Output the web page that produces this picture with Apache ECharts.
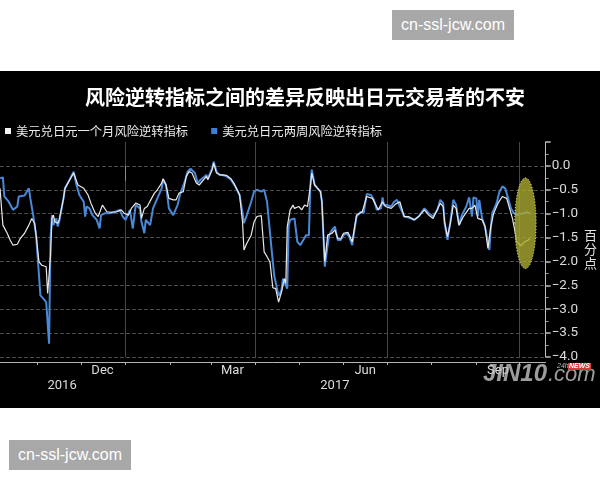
<!DOCTYPE html>
<html><head><meta charset="utf-8">
<script src="https://cdn.jsdelivr.net/npm/echarts@6/dist/echarts.min.js"></script>
<style>
html,body{margin:0;padding:0;background:#fff;width:600px;height:480px;overflow:hidden;}
#chart{position:absolute;left:0;top:71px;width:600px;height:337px;background:#000;}
.wm{position:absolute;width:122px;height:30px;background:#a8a8a8;color:#fff;font:16px 'Liberation Sans',Arial,sans-serif;line-height:30px;text-align:center;}
</style></head><body>
<div class="wm" style="left:392px;top:10px">cn-ssl-jcw.com</div>
<div id="chart"></div>
<div class="wm" style="left:9px;top:440px">cn-ssl-jcw.com</div>
<script>
const titleText = '风险逆转指标之间的差异反映出日元交易者的不安';
const seriesNames = ['美元兑日元一个月风险逆转指标', '美元兑日元两周风险逆转指标'];
const unitLabel = '百\n分\n点';
const axisStart = '2016-10-06';
const axisEnd = '2017-10-19';
const monthLabelDates = ['2016-12-16', '2017-03-16', '2017-06-16', '2017-09-16'];
const monthLabels = ['Dec', 'Mar', 'Jun', 'Sep'];
const yearLabelDates = ['2016-11-18', '2017-05-26'];
const yearLabels = ['2016', '2017'];
const yearBreakDates = ['2017-01-01'];
const quarterStartDates = ['2017-01-01', '2017-04-01', '2017-07-01', '2017-10-01'];
const yMin = -4, yMax = 0.5, yStep = 0.5;

// 1-month risk reversal (white)
const oneMonthDates = ['2016-10-06','2016-10-08','2016-10-11','2016-10-13','2016-10-15','2016-10-18','2016-10-20','2016-10-23','2016-10-26','2016-10-28','2016-10-30','2016-10-31','2016-11-02','2016-11-04','2016-11-07','2016-11-08','2016-11-10','2016-11-11','2016-11-12','2016-11-13','2016-11-15','2016-11-16','2016-11-19','2016-11-20','2016-11-26','2016-11-29','2016-12-03','2016-12-06','2016-12-08','2016-12-11','2016-12-13','2016-12-16','2016-12-19','2016-12-22','2016-12-26','2016-12-29','2016-12-31','2017-01-03','2017-01-05','2017-01-08','2017-01-11','2017-01-12','2017-01-14','2017-01-16','2017-01-19','2017-01-21','2017-01-23','2017-01-26','2017-01-27','2017-01-29','2017-01-31','2017-02-03','2017-02-05','2017-02-07','2017-02-10','2017-02-12','2017-02-14','2017-02-16','2017-02-19','2017-02-21','2017-02-26','2017-02-27','2017-03-02','2017-03-03','2017-03-05','2017-03-08','2017-03-12','2017-03-15','2017-03-17','2017-03-21','2017-03-23','2017-03-24','2017-03-26','2017-03-29','2017-03-31','2017-04-02','2017-04-05','2017-04-06','2017-04-07','2017-04-09','2017-04-11','2017-04-13','2017-04-15','2017-04-17','2017-04-19','2017-04-21','2017-04-22','2017-04-23','2017-04-25','2017-04-27','2017-04-28','2017-05-01','2017-05-03','2017-05-05','2017-05-07','2017-05-09','2017-05-10','2017-05-12','2017-05-14','2017-05-16','2017-05-17','2017-05-19','2017-05-21','2017-05-24','2017-05-26','2017-05-28','2017-05-30','2017-06-01','2017-06-04','2017-06-05','2017-06-07','2017-06-10','2017-06-14','2017-06-17','2017-06-21','2017-06-25','2017-06-28','2017-06-30','2017-07-04','2017-07-07','2017-07-10','2017-07-13','2017-07-16','2017-07-20','2017-07-23','2017-07-27','2017-07-30','2017-08-02','2017-08-07','2017-08-09','2017-08-10','2017-08-12','2017-08-14','2017-08-16','2017-08-18','2017-08-20','2017-08-23','2017-08-27','2017-08-29','2017-08-31','2017-09-02','2017-09-05','2017-09-07','2017-09-09','2017-09-11','2017-09-13','2017-09-16','2017-09-19','2017-09-22','2017-09-24','2017-09-26','2017-09-28','2017-09-29','2017-10-02','2017-10-04','2017-10-05','2017-10-07','2017-10-08'];
const oneMonthValues = [-0.47,-1.24,-1.41,-1.55,-1.66,-1.64,-1.52,-1.41,-1.24,-1.10,-1.20,-1.45,-2.01,-2.08,-2.11,-2.67,-1.87,-1.10,-1.03,-1.17,-1.20,-1.13,-0.68,-0.47,-0.15,-0.40,-0.47,-0.61,-0.78,-0.99,-1.06,-0.82,-0.96,-0.97,-0.96,-0.92,-0.99,-1.03,-0.89,-0.78,-0.82,-1.10,-0.89,-0.85,-0.68,-0.57,-0.50,-0.36,-0.27,-0.40,-0.68,-0.71,-0.71,-0.57,-0.54,-0.22,-0.12,-0.15,-0.36,-0.40,-0.22,-0.29,-0.08,0.06,-0.15,-0.19,-0.20,-0.27,-0.36,-0.61,-1.17,-1.76,-1.62,-1.45,-1.17,-1.06,-1.04,-1.06,-1.80,-1.90,-2.01,-2.55,-2.57,-2.85,-2.64,-2.36,-2.46,-1.27,-0.92,-0.82,-0.89,-0.85,-0.92,-0.82,-0.85,-0.43,-0.15,-0.40,-0.47,-0.54,-0.75,-2.01,-1.45,-1.41,-1.34,-1.52,-1.53,-1.41,-1.39,-1.45,-1.59,-1.03,-0.96,-0.64,-0.68,-0.92,-0.75,-0.85,-0.89,-0.80,-0.75,-1.06,-1.06,-1.13,-1.06,-0.92,-1.03,-1.10,-0.78,-0.85,-1.17,-1.48,-1.20,-0.82,-0.89,-1.24,-1.06,-0.89,-0.89,-0.82,-1.10,-1.13,-1.27,-1.73,-1.27,-0.99,-0.78,-0.64,-0.68,-0.89,-1.10,-1.41,-1.59,-1.67,-1.60,-1.57,-1.55,-1.52];

// 2-week risk reversal (blue)
const twoWeekDates = ['2016-10-06','2016-10-08','2016-10-09','2016-10-12','2016-10-15','2016-10-18','2016-10-19','2016-10-23','2016-10-26','2016-10-27','2016-10-29','2016-10-31','2016-11-01','2016-11-03','2016-11-05','2016-11-07','2016-11-09','2016-11-10','2016-11-11','2016-11-12','2016-11-14','2016-11-15','2016-11-16','2016-11-19','2016-11-20','2016-11-22','2016-11-26','2016-11-28','2016-11-30','2016-12-03','2016-12-04','2016-12-05','2016-12-07','2016-12-09','2016-12-12','2016-12-14','2016-12-15','2016-12-18','2016-12-21','2016-12-24','2016-12-28','2016-12-30','2017-01-01','2017-01-04','2017-01-06','2017-01-08','2017-01-11','2017-01-12','2017-01-14','2017-01-15','2017-01-18','2017-01-20','2017-01-22','2017-01-26','2017-01-27','2017-01-29','2017-01-31','2017-02-03','2017-02-06','2017-02-08','2017-02-11','2017-02-13','2017-02-15','2017-02-18','2017-02-20','2017-02-22','2017-02-26','2017-02-27','2017-03-02','2017-03-03','2017-03-05','2017-03-07','2017-03-09','2017-03-12','2017-03-15','2017-03-18','2017-03-21','2017-03-23','2017-03-24','2017-03-26','2017-03-29','2017-03-31','2017-04-02','2017-04-05','2017-04-07','2017-04-09','2017-04-12','2017-04-14','2017-04-17','2017-04-19','2017-04-20','2017-04-22','2017-04-23','2017-04-24','2017-04-25','2017-04-28','2017-04-30','2017-05-02','2017-05-03','2017-05-06','2017-05-08','2017-05-09','2017-05-10','2017-05-12','2017-05-14','2017-05-16','2017-05-17','2017-05-19','2017-05-21','2017-05-22','2017-05-24','2017-05-26','2017-05-28','2017-05-30','2017-06-01','2017-06-03','2017-06-05','2017-06-07','2017-06-08','2017-06-10','2017-06-13','2017-06-15','2017-06-17','2017-06-20','2017-06-22','2017-06-24','2017-06-27','2017-06-28','2017-06-29','2017-07-01','2017-07-04','2017-07-06','2017-07-08','2017-07-10','2017-07-13','2017-07-16','2017-07-20','2017-07-23','2017-07-27','2017-07-30','2017-08-02','2017-08-05','2017-08-07','2017-08-09','2017-08-10','2017-08-12','2017-08-14','2017-08-16','2017-08-18','2017-08-20','2017-08-22','2017-08-25','2017-08-27','2017-08-29','2017-08-30','2017-09-01','2017-09-02','2017-09-03','2017-09-05','2017-09-07','2017-09-09','2017-09-10','2017-09-11','2017-09-12','2017-09-15','2017-09-17','2017-09-19','2017-09-21','2017-09-23','2017-09-25','2017-09-27','2017-09-29','2017-10-01','2017-10-04','2017-10-06','2017-10-08'];
const twoWeekValues = [-0.26,-0.24,-0.64,-0.75,-0.92,-0.85,-0.64,-0.62,-0.47,-0.68,-1.03,-1.45,-1.87,-2.71,-2.78,-2.85,-3.72,-1.52,-1.03,-1.24,-1.10,-1.27,-1.17,-0.68,-0.47,-0.36,-0.12,-0.40,-0.61,-0.75,-1.06,-0.85,-0.89,-1.03,-1.13,-1.31,-1.03,-0.99,-0.99,-0.97,-0.92,-1.06,-1.13,-0.92,-1.31,-0.82,-0.89,-1.17,-1.41,-1.13,-1.24,-0.89,-0.75,-0.47,-0.29,-0.40,-0.89,-1.03,-0.82,-0.57,-0.33,-0.12,-0.06,-0.15,-0.36,-0.29,-0.19,-0.26,-0.05,0.09,-0.12,-0.19,-0.19,-0.22,-0.29,-0.43,-0.61,-0.99,-1.20,-1.03,-0.75,-0.54,-0.50,-0.54,-0.50,-0.75,-1.70,-2.30,-2.72,-2.60,-2.36,-2.50,-2.57,-1.24,-1.13,-1.10,-1.59,-1.66,-1.62,-1.45,-1.45,-0.40,-0.08,-0.40,-0.47,-0.54,-0.75,-2.11,-1.66,-1.45,-1.34,-1.27,-1.55,-1.55,-1.45,-1.41,-1.48,-1.66,-1.45,-1.06,-0.96,-0.99,-0.59,-0.61,-0.71,-0.92,-0.89,-0.66,-0.82,-0.82,-0.85,-0.75,-0.71,-0.85,-1.06,-1.08,-1.13,-1.06,-0.89,-0.99,-1.06,-0.92,-0.71,-0.78,-1.20,-1.55,-1.17,-0.71,-0.82,-1.24,-1.03,-0.85,-0.66,-1.06,-0.66,-0.68,-1.06,-0.71,-1.10,-1.27,-1.59,-1.76,-1.31,-0.99,-0.78,-0.54,-0.43,-0.47,-0.68,-0.89,-0.99,-1.03,-1.01,-0.99,-0.97,-0.99];

// highlighted region (ellipse) in data units
const ellipseCenterDate = '2017-10-05';
const ellipseCenterValue = -1.2;
const ellipseHalfDays = 7.4;
const ellipseHalfValue = 0.95;

function buildDays(a, b) {
  const out = [];
  const s = Date.parse(a + 'T00:00:00Z'), e = Date.parse(b + 'T00:00:00Z');
  for (let t = s; t <= e; t += 86400000) out.push(new Date(t).toISOString().slice(0, 10));
  return out;
}
const days = buildDays(axisStart, axisEnd);
const pair = (ds, vs) => ds.map((d, i) => [d, vs[i]]);

const chart = echarts.init(document.getElementById('chart'), null, {renderer: 'canvas'});
const latin = 'Roboto, "Liberation Sans", sans-serif';
const cjk = '"Noto Sans CJK SC", sans-serif';

chart.setOption({
  backgroundColor: '#000',
  animation: false,
  title: {
    text: titleText, left: 85, top: 14, padding: 0,
    textStyle: {color: '#ffffff', fontSize: 20, fontWeight: 'bold', fontFamily: cjk, lineHeight: 24}
  },
  legend: {
    data: seriesNames, left: 5, top: 53, padding: 0, itemWidth: 6, itemHeight: 6, itemGap: 23, icon: 'rect',
    textStyle: {color: '#eaeaea', fontSize: 12.3, fontFamily: cjk, lineHeight: 14}
  },
  grid: {left: 0, right: 54, top: 71, bottom: 51, containLabel: false},
  xAxis: [{
    type: 'category', data: days, boundaryGap: false, position: 'bottom', offset: 5,
    axisLine: {show: true, onZero: false, lineStyle: {color: '#b4b4b4', width: 1}},
    axisTick: {show: true, interval: (i, v) => v.slice(8) === '01', length: 3, lineStyle: {color: '#b4b4b4'}},
    axisLabel: {show: true, interval: (i, v) => monthLabelDates.includes(v),
      formatter: v => monthLabels[monthLabelDates.indexOf(v)] || '',
      color: '#dcdcdc', fontSize: 13, fontFamily: latin, margin: 2},
    splitLine: {show: true, interval: (i, v) => quarterStartDates.includes(v), lineStyle: {color: '#474747', width: 1}}
  }, {
    type: 'category', data: days, boundaryGap: false, position: 'bottom', offset: 21, gridIndex: 0,
    axisLine: {show: false},
    axisTick: {show: true, interval: (i, v) => yearBreakDates.includes(v), length: 15, lineStyle: {color: '#8a8a8a'}},
    axisLabel: {show: true, interval: (i, v) => yearLabelDates.includes(v),
      formatter: v => yearLabels[yearLabelDates.indexOf(v)] || '',
      color: '#dcdcdc', fontSize: 13, fontFamily: latin, margin: 1},
    splitLine: {show: false}
  }],
  yAxis: {
    type: 'value', position: 'right', min: yMin, max: yMax, interval: yStep,
    axisLine: {show: true, lineStyle: {color: '#bdbdbd'}},
    axisTick: {show: true, length: 5, lineStyle: {color: '#bdbdbd', width: 1.5}},
    minorTick: {show: true, splitNumber: 2, length: 3, lineStyle: {color: '#9a9a9a'}},
    axisLabel: {margin: 6, color: '#dcdcdc', fontSize: 13.5, fontFamily: latin,
      formatter: v => (v > 0.01 ? '' : v.toFixed(1).replace('-', '\u2212'))},
    splitLine: {show: true, showMaxLine: false, lineStyle: {color: '#4a4a4a', type: 'dashed', width: 1}},
    name: unitLabel, nameLocation: 'middle', nameRotate: 0, nameGap: 36,
    nameTextStyle: {color: '#e0e0e0', fontSize: 13, lineHeight: 14, fontFamily: cjk}
  },
  series: [{
    name: seriesNames[1], type: 'line', data: pair(twoWeekDates, twoWeekValues),
    symbol: 'none', showSymbol: false, z: 2,
    lineStyle: {color: '#4a88d8', width: 2}, itemStyle: {color: '#3d7fd6'}
  }, {
    name: seriesNames[0], type: 'line', data: pair(oneMonthDates, oneMonthValues),
    symbol: 'none', showSymbol: false, z: 3,
    lineStyle: {color: '#e8e8e8', width: 1.2}, itemStyle: {color: '#f2f2f2'}
  }]
});

const c = chart.convertToPixel({xAxisIndex: 0, yAxisIndex: 0}, [ellipseCenterDate, ellipseCenterValue]);
const t = chart.convertToPixel({xAxisIndex: 0, yAxisIndex: 0}, [ellipseCenterDate, ellipseCenterValue + ellipseHalfValue]);
const dayW = chart.convertToPixel({xAxisIndex: 0}, days[1]) - chart.convertToPixel({xAxisIndex: 0}, days[0]);

chart.setOption({
  graphic: [{
    type: 'ellipse', z: 100,
    shape: {cx: c[0], cy: c[1], rx: dayW * ellipseHalfDays, ry: c[1] - t[1]},
    style: {fill: 'rgba(170,170,50,0.8)', stroke: '#e4e48a', lineWidth: 1, lineDash: [1, 2]}
  }, {
    type: 'text', z: 110, x: 483, y: 291,
    style: {text: 'JIN10', fill: 'rgba(195,195,195,0.8)', font: 'italic bold 24px "Liberation Sans", sans-serif', textVerticalAlign: 'top'}
  }, {
    type: 'text', z: 110, x: 548, y: 293,
    style: {text: '.com', fill: 'rgba(195,195,195,0.8)', font: 'italic 22px "Liberation Sans", sans-serif', textVerticalAlign: 'top'}
  }, {
    type: 'text', z: 110, x: 557, y: 292,
    style: {text: '24h', fill: '#bbbbbb', font: 'italic 7px "Liberation Sans", sans-serif', textVerticalAlign: 'top'}
  }, {
    type: 'text', z: 110, x: 568, y: 292,
    style: {text: 'NEWS', fill: '#ffffff', font: 'italic bold 7px "Liberation Sans", sans-serif', textVerticalAlign: 'top', backgroundColor: '#d23c3c', padding: [0, 1]}
  }]
});
</script>
</body></html>
